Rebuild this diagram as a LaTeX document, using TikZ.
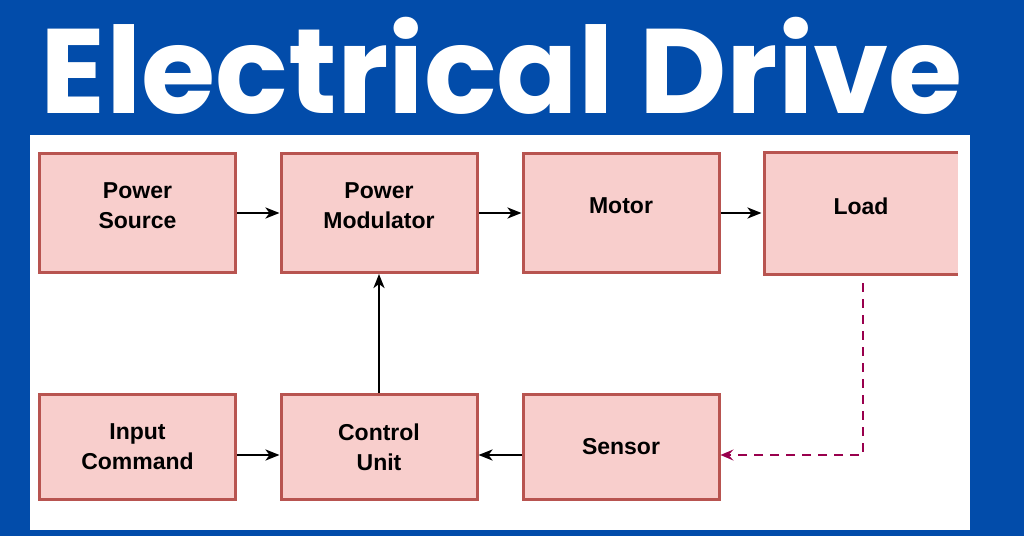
\documentclass[tikz,border=0pt]{standalone}
\usepackage{fontspec}
\setmainfont{Liberation Sans}
\newfontfamily\titlefont{Poppins Bold}
\usetikzlibrary{arrows.meta}
\definecolor{bg}{HTML}{024CAA}
\definecolor{bfill}{HTML}{F8CECC}
\definecolor{bline}{HTML}{B85450}
\definecolor{fb}{HTML}{99004D}
\begin{document}
\begin{tikzpicture}[x=1pt,y=-1pt,
  box/.style={draw=bline,line width=3pt,fill=bfill,minimum width=196pt,minimum height=119pt,inner sep=0pt,align=center,font=\bfseries\fontsize{23}{30}\selectfont},
  one/.style={label={[font=\bfseries\fontsize{23}{30}\selectfont,align=center,yshift=7pt]center:#1}},
  one0/.style={label={[font=\bfseries\fontsize{23}{30}\selectfont]center:#1}},
  arr/.style={-{Stealth[length=14pt,width=11pt,inset=4pt]},line width=2.5pt,black}]
\fill[bg] (0,0) rectangle (1024,536);
\fill[white] (30,135) rectangle (970,530);
\node[text=white,anchor=center] (title) at (502,66) {\resizebox{922pt}{!}{\titlefont Electrical Drive}};
\node[box,one={Power\\Source}] (ps) at (137.5,213) {};
\node[box,one={Power\\Modulator}] (pm) at (379,213) {};
\node[box,one=Motor] (mo) at (621,213) {};
\fill[bfill] (764,152) rectangle (958,274);
\draw[bline,line width=3pt] (958,152) -- (764,152) -- (764,274) -- (958,274);
\node[box,draw=none,fill=none,one=Load] (lo) at (861,213) {};
\node[box,minimum height=105pt] (ic) at (137.5,447) {Input\\Command};
\node[box,minimum height=105pt] (cu) at (379,447) {Control\\Unit};
\node[box,minimum height=105pt,one0=Sensor] (se) at (621,447) {};
\draw[arr] (ps) -- (pm);
\draw[arr] (pm) -- (mo);
\draw[arr] (mo) -- (lo.west);
\draw[arr] (cu) -- (pm);
\draw[arr] (ic.east|-0,455) -- (cu.west|-0,455);
\draw[arr] (se.west|-0,455) -- (cu.east|-0,455);
\coordinate (d0) at (863,283);
\draw[fb,line width=2.4pt,dash pattern=on 9pt off 7pt,-{Stealth[length=13pt,width=11pt,inset=5pt]}] (d0) |- (se.east|-0,455);
\end{tikzpicture}
\end{document}
